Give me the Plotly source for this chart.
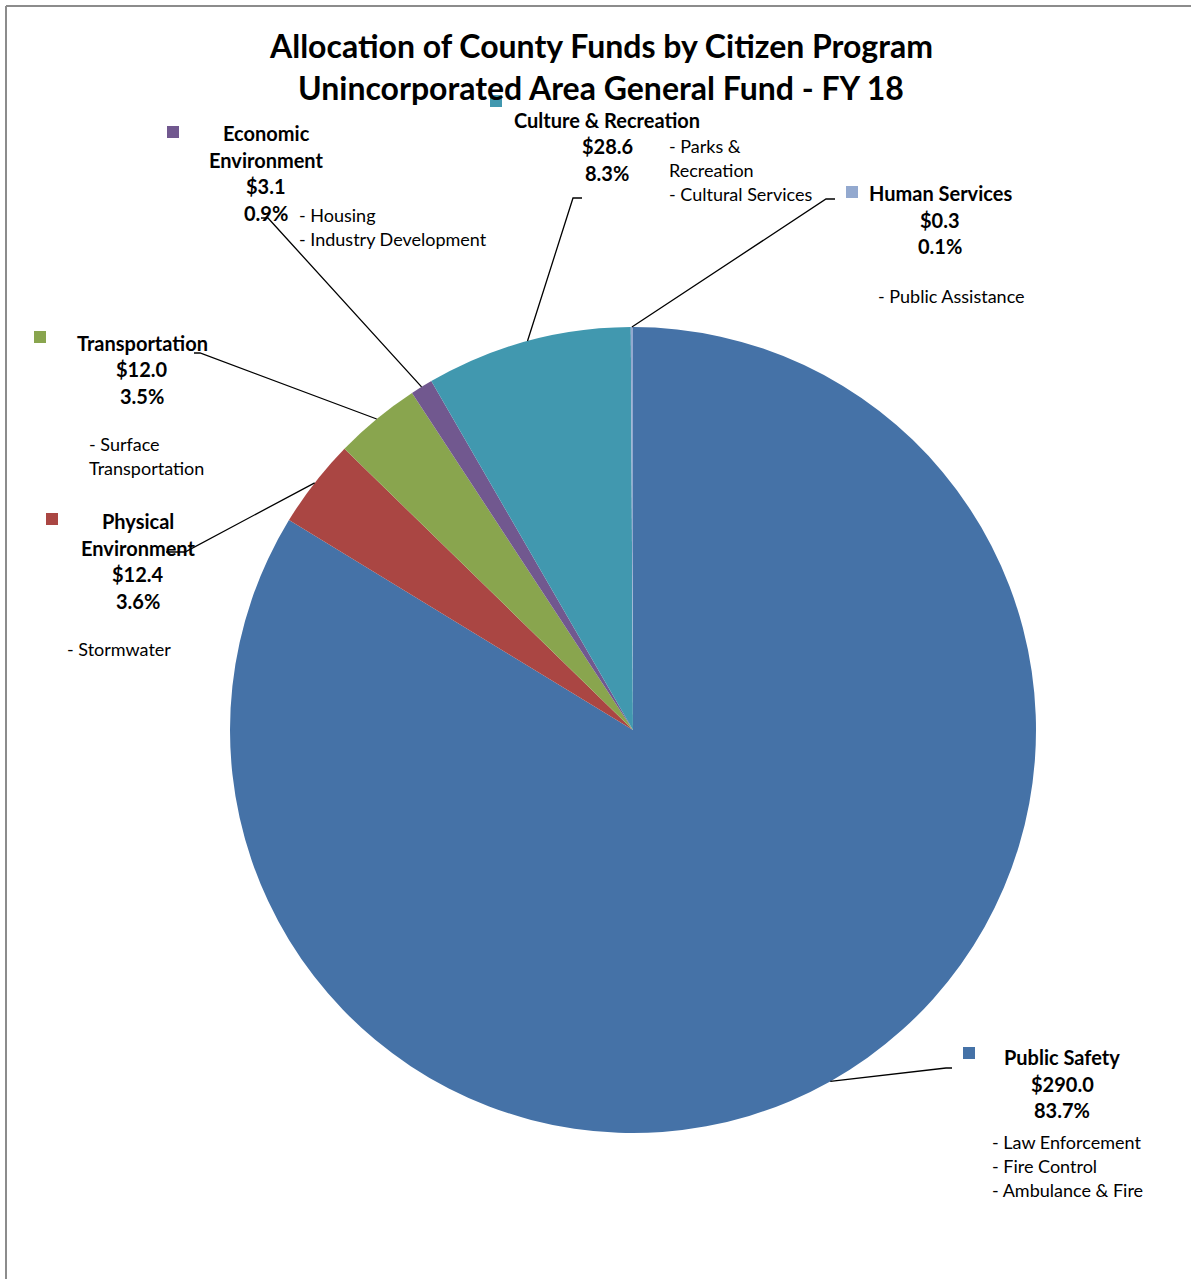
import math
import plotly.graph_objects as go

# ---- data ----
programs = ["Public Safety", "Physical Environment", "Transportation",
            "Economic Environment", "Culture & Recreation", "Human Services"]
amounts = [290.0, 12.4, 12.0, 3.1, 28.6, 0.3]          # $ millions
colors = ["#4572A7", "#AA4643", "#89A54E", "#71588F", "#4198AF", "#93A9CF"]
name_lines = [["Public Safety"], ["Physical", "Environment"], ["Transportation"],
              ["Economic", "Environment"], ["Culture & Recreation"], ["Human Services"]]
descriptions = [["- Law Enforcement", "- Fire Control", "- Ambulance & Fire"],
                ["- Stormwater"],
                ["- Surface", "Transportation"],
                ["- Housing", "- Industry Development"],
                ["- Parks &", "Recreation", "- Cultural Services"],
                ["- Public Assistance"]]
title_lines = ["Allocation of County Funds by Citizen Program",
               "Unincorporated Area General Fund - FY 18"]

# ---- page geometry (pixels) ----
W, H = 1191, 1279
CX, CY, R = 633, 730, 403
FONT = "Lato"


def fx(x):
    return x / W


def fy(y):
    return 1 - y / H


# label layout per program: text centre x, first line y,
# description left x, description first y, marker (x, y), leader corner, leader end
layout_info = [
    dict(cx=1062, y0=1057, dx=990, dy0=1142, mk=(969, 1053), corner=(946, 1068), end=(952, 1068)),
    dict(cx=138, y0=521, dx=65, dy0=649, mk=(52, 519), corner=(185, 552), end=(166, 552)),
    dict(cx=142, y0=343, dx=87, dy0=444, mk=(40, 337), corner=(200, 353), end=(194, 353)),
    dict(cx=266, y0=133, dx=297, dy0=215, mk=(173, 132), corner=(268, 218), end=(261, 218)),
    dict(cx=607, y0=120, dx=667, dy0=146, mk=(496, 101), corner=(573, 198), end=(582, 198)),
    dict(cx=940, y0=193, dx=876, dy0=296, mk=(852, 192), corner=(826, 199), end=(835, 199)),
]
STEP_BOLD = 26.5
STEP_DESC = 23.8

total = sum(amounts)

fig = go.Figure(go.Pie(
    labels=programs, values=amounts, sort=False, direction="clockwise",
    rotation=0, marker=dict(colors=colors, line=dict(width=0)),
    textinfo="none", hoverinfo="label+value+percent", showlegend=False,
    domain=dict(x=[fx(CX - R), fx(CX + R)], y=[fy(CY + R), fy(CY - R)]),
))

annotations = []
shapes = []

# title
for i, t in enumerate(title_lines):
    annotations.append(dict(text=f"<b>{t}</b>", x=fx(601), y=fy(45 + 42 * i),
                            xref="paper", yref="paper", showarrow=False,
                            xanchor="center", yanchor="middle",
                            font=dict(family=FONT, size=32, color="black")))

# labels, markers and leader lines
cum = 0.0
for name, amt, col, nl, desc, info in zip(programs, amounts, colors,
                                          name_lines, descriptions, layout_info):
    frac = amt / total
    mid = (cum + frac / 2) * 2 * math.pi
    cum += frac
    sx = CX + R * math.sin(mid)
    sy = CY - R * math.cos(mid)

    bold = nl + [f"${amt:.1f}", f"{frac * 100:.1f}%"]
    for k, line in enumerate(bold):
        annotations.append(dict(text=f"<b>{line}</b>", x=fx(info["cx"]),
                                y=fy(info["y0"] + STEP_BOLD * k),
                                xref="paper", yref="paper", showarrow=False,
                                xanchor="center", yanchor="middle",
                                font=dict(family=FONT, size=20, color="black")))
    for k, line in enumerate(desc):
        annotations.append(dict(text=line, x=fx(info["dx"]),
                                y=fy(info["dy0"] + STEP_DESC * k),
                                xref="paper", yref="paper", showarrow=False,
                                xanchor="left", yanchor="middle",
                                font=dict(family=FONT, size=18, color="black")))
    mx, my = info["mk"]
    shapes.append(dict(type="rect", xref="paper", yref="paper",
                       x0=fx(mx - 6), x1=fx(mx + 6), y0=fy(my - 6), y1=fy(my + 6),
                       fillcolor=col, line=dict(width=0)))
    (kx, ky), (ex, ey) = info["corner"], info["end"]
    shapes.append(dict(type="path", xref="paper", yref="paper",
                       path=f"M {fx(sx)},{fy(sy)} L {fx(kx)},{fy(ky)} L {fx(ex)},{fy(ey)}",
                       line=dict(color="black", width=1.3)))

# chart area border (top and left edges)
shapes.append(dict(type="line", xref="paper", yref="paper",
                   x0=fx(6), x1=1, y0=fy(6), y1=fy(6),
                   line=dict(color="#8c8c8c", width=2)))
shapes.append(dict(type="line", xref="paper", yref="paper",
                   x0=fx(6), x1=fx(6), y0=fy(6), y1=0,
                   line=dict(color="#8c8c8c", width=2)))

fig.update_layout(
    width=W, height=H, margin=dict(l=0, r=0, t=0, b=0),
    paper_bgcolor="white", plot_bgcolor="white",
    annotations=annotations, shapes=shapes,
    font=dict(family=FONT),
)

fig.write_html("out.html", config={"displayModeBar": False})
